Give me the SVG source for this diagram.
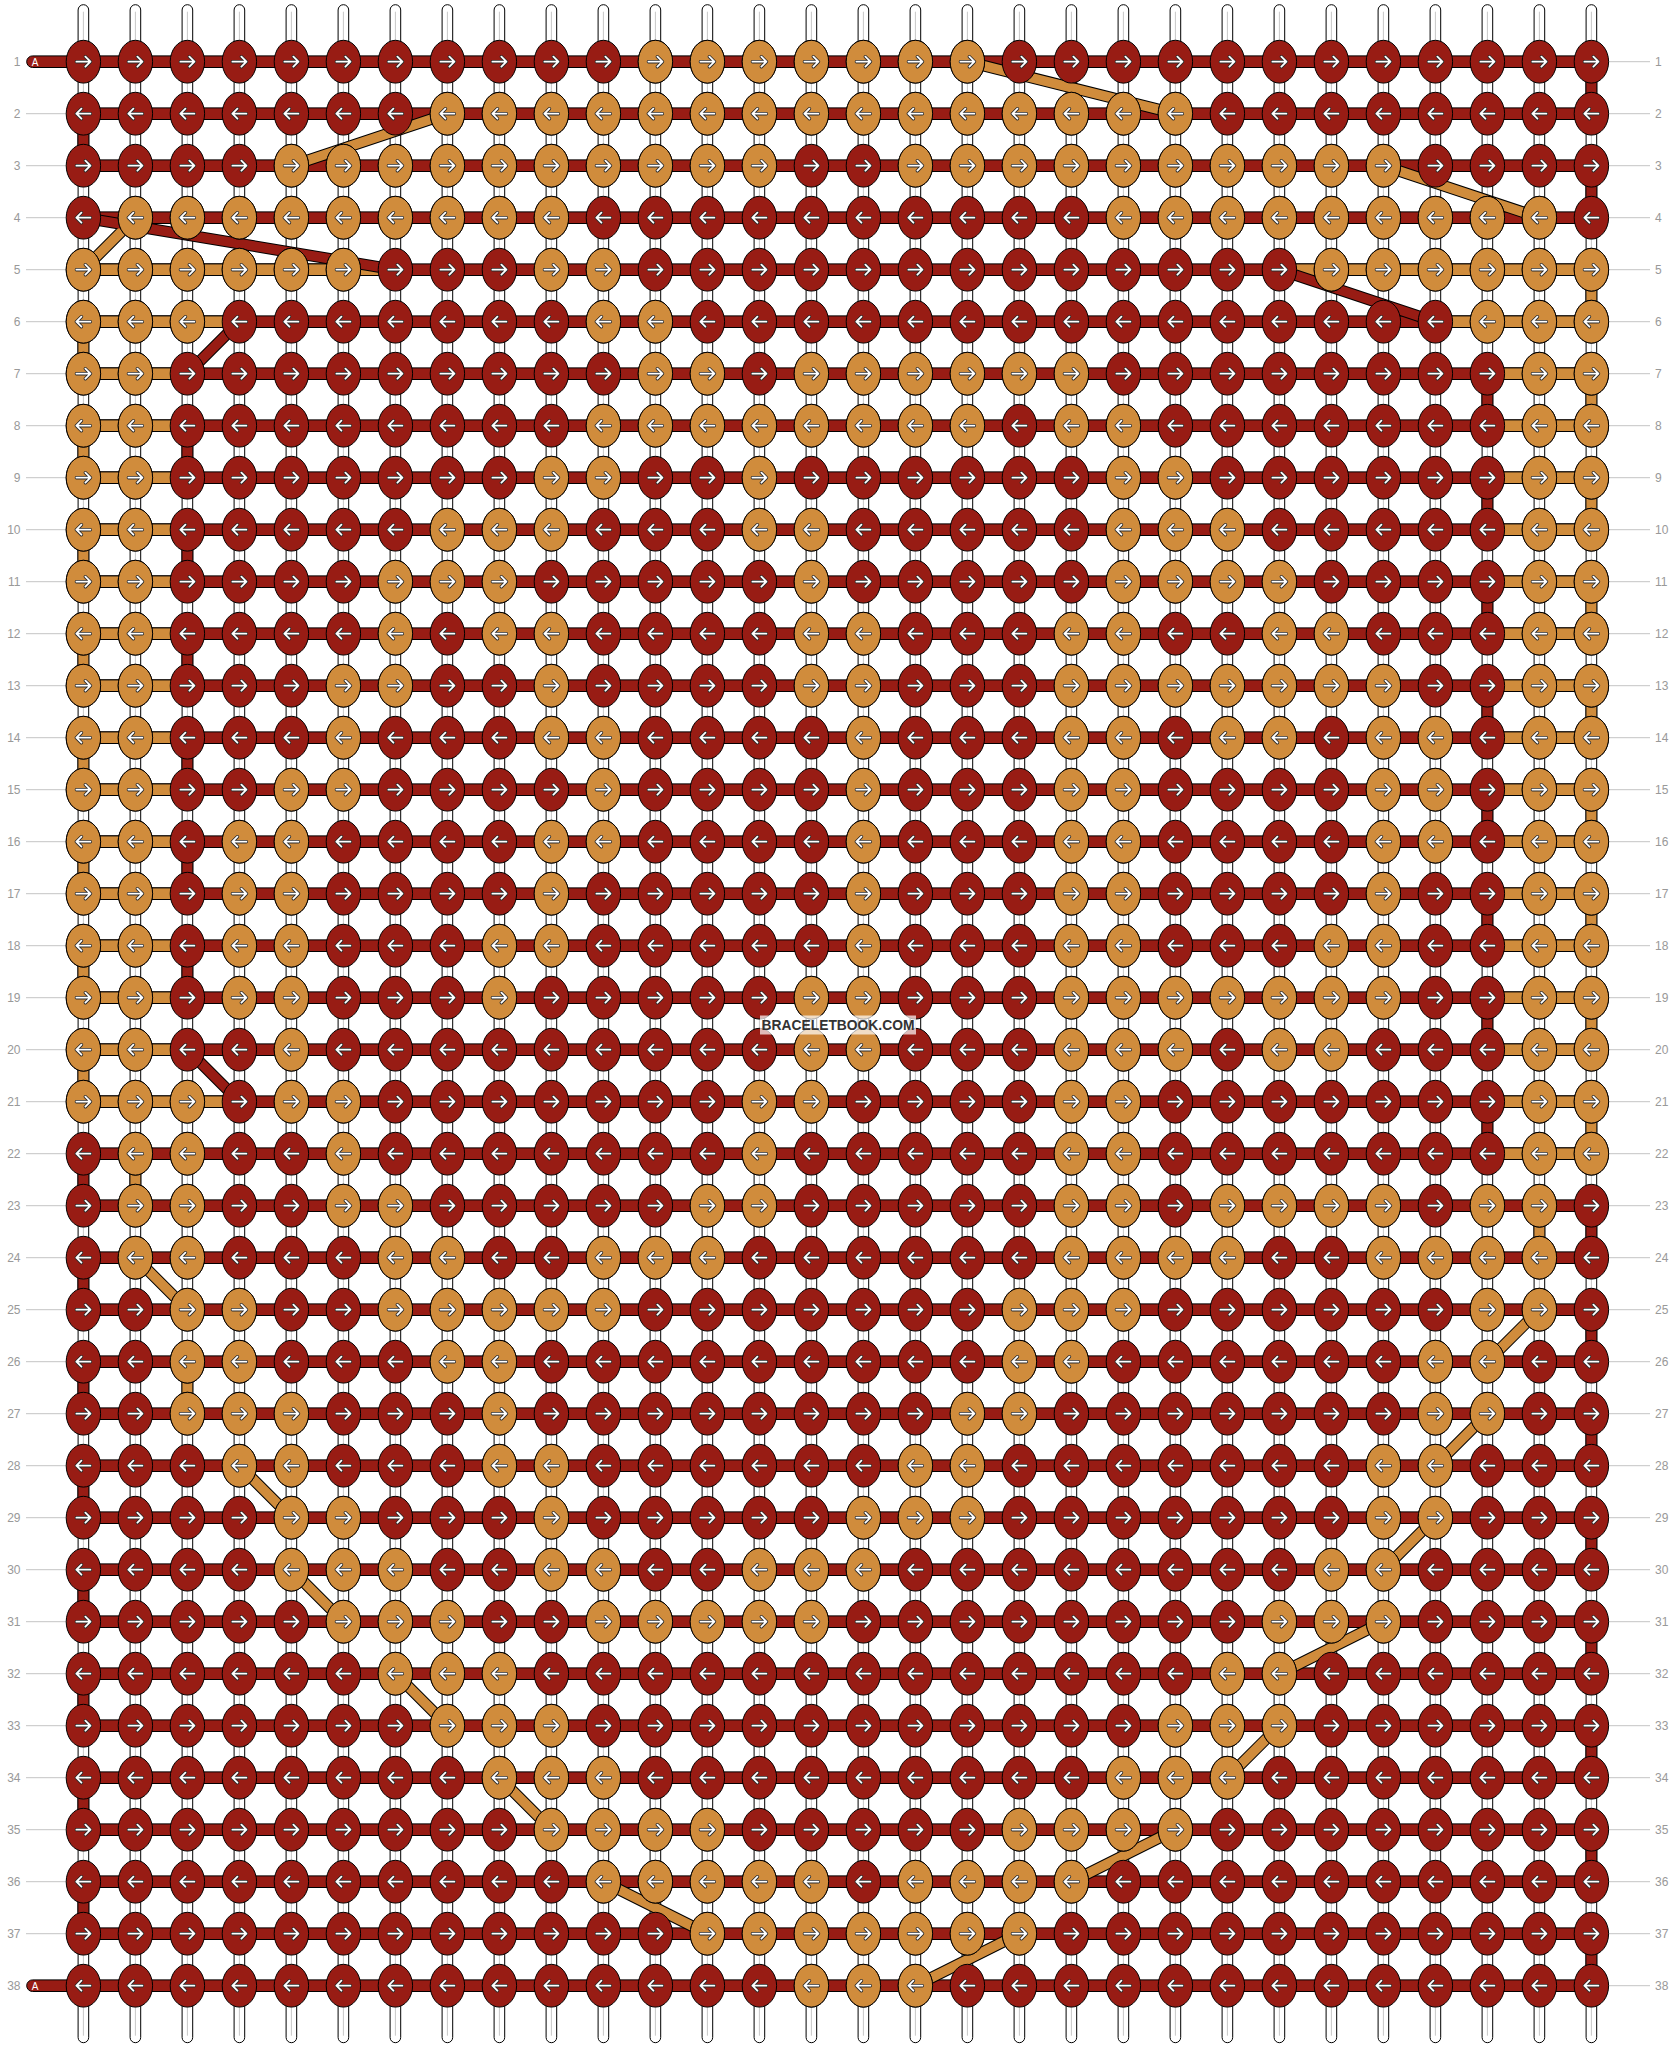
<svg xmlns="http://www.w3.org/2000/svg" width="1676" height="2048" viewBox="0 0 1676 2048">
<style>
.r{fill:#981c14;stroke:#000;stroke-width:1}
.o{fill:#d08c3c;stroke:#000;stroke-width:1}
.lb{font-family:"Liberation Sans",Arial,sans-serif;font-size:12px;fill:#999}
.le{text-anchor:end}
.ln{fill:none;stroke:#c4c4c4;stroke-width:1}
.dk{fill:none;stroke:#000;stroke-width:11.6}
.dr{fill:none;stroke:#981c14;stroke-width:9.6}
.do{fill:none;stroke:#d08c3c;stroke-width:9.6}
</style>
<defs>
<g id="s"><rect x="-5.3" y="-57" width="10.6" height="2038" rx="5.3" fill="#fff" stroke="#000"/><path d="M0-50V1974" stroke="#c8c8c8" stroke-width="1"/></g>
<rect id="hb" x="0" y="-5.8" width="1508" height="11.6"/>
<ellipse id="o" rx="17.2" ry="21.4" fill="#d08c3c" stroke="#000"/>
<path id="KR" fill="#981c14" stroke="#000" d="M-17.2 0a17.2 21.4 0 1 0 34.4 0a17.2 21.4 0 1 0-34.4 0z
m52 0a17.2 21.4 0 1 0 34.4 0a17.2 21.4 0 1 0-34.4 0zm52 0a17.2 21.4 0 1 0 34.4 0a17.2 21.4 0 1 0-34.4 0zm52 0a17.2 21.4 0 1 0 34.4 0a17.2 21.4 0 1 0-34.4 0zm52 0a17.2 21.4 0 1 0 34.4 0a17.2 21.4 0 1 0-34.4 0zm52 0a17.2 21.4 0 1 0 34.4 0a17.2 21.4 0 1 0-34.4 0z
m52 0a17.2 21.4 0 1 0 34.4 0a17.2 21.4 0 1 0-34.4 0zm52 0a17.2 21.4 0 1 0 34.4 0a17.2 21.4 0 1 0-34.4 0zm52 0a17.2 21.4 0 1 0 34.4 0a17.2 21.4 0 1 0-34.4 0zm52 0a17.2 21.4 0 1 0 34.4 0a17.2 21.4 0 1 0-34.4 0zm52 0a17.2 21.4 0 1 0 34.4 0a17.2 21.4 0 1 0-34.4 0z
m52 0a17.2 21.4 0 1 0 34.4 0a17.2 21.4 0 1 0-34.4 0zm52 0a17.2 21.4 0 1 0 34.4 0a17.2 21.4 0 1 0-34.4 0zm52 0a17.2 21.4 0 1 0 34.4 0a17.2 21.4 0 1 0-34.4 0zm52 0a17.2 21.4 0 1 0 34.4 0a17.2 21.4 0 1 0-34.4 0zm52 0a17.2 21.4 0 1 0 34.4 0a17.2 21.4 0 1 0-34.4 0z
m52 0a17.2 21.4 0 1 0 34.4 0a17.2 21.4 0 1 0-34.4 0zm52 0a17.2 21.4 0 1 0 34.4 0a17.2 21.4 0 1 0-34.4 0zm52 0a17.2 21.4 0 1 0 34.4 0a17.2 21.4 0 1 0-34.4 0zm52 0a17.2 21.4 0 1 0 34.4 0a17.2 21.4 0 1 0-34.4 0zm52 0a17.2 21.4 0 1 0 34.4 0a17.2 21.4 0 1 0-34.4 0z
m52 0a17.2 21.4 0 1 0 34.4 0a17.2 21.4 0 1 0-34.4 0zm52 0a17.2 21.4 0 1 0 34.4 0a17.2 21.4 0 1 0-34.4 0zm52 0a17.2 21.4 0 1 0 34.4 0a17.2 21.4 0 1 0-34.4 0zm52 0a17.2 21.4 0 1 0 34.4 0a17.2 21.4 0 1 0-34.4 0zm52 0a17.2 21.4 0 1 0 34.4 0a17.2 21.4 0 1 0-34.4 0z
m52 0a17.2 21.4 0 1 0 34.4 0a17.2 21.4 0 1 0-34.4 0zm52 0a17.2 21.4 0 1 0 34.4 0a17.2 21.4 0 1 0-34.4 0zm52 0a17.2 21.4 0 1 0 34.4 0a17.2 21.4 0 1 0-34.4 0zm52 0a17.2 21.4 0 1 0 34.4 0a17.2 21.4 0 1 0-34.4 0z"/>
<path id="pR" d="M-7 0h14m-5-5l5 5-5 5
m43-5h14m-5-5l5 5-5 5m43-5h14m-5-5l5 5-5 5m43-5h14m-5-5l5 5-5 5m43-5h14m-5-5l5 5-5 5m43-5h14m-5-5l5 5-5 5
m43-5h14m-5-5l5 5-5 5m43-5h14m-5-5l5 5-5 5m43-5h14m-5-5l5 5-5 5m43-5h14m-5-5l5 5-5 5m43-5h14m-5-5l5 5-5 5
m43-5h14m-5-5l5 5-5 5m43-5h14m-5-5l5 5-5 5m43-5h14m-5-5l5 5-5 5m43-5h14m-5-5l5 5-5 5m43-5h14m-5-5l5 5-5 5
m43-5h14m-5-5l5 5-5 5m43-5h14m-5-5l5 5-5 5m43-5h14m-5-5l5 5-5 5m43-5h14m-5-5l5 5-5 5m43-5h14m-5-5l5 5-5 5
m43-5h14m-5-5l5 5-5 5m43-5h14m-5-5l5 5-5 5m43-5h14m-5-5l5 5-5 5m43-5h14m-5-5l5 5-5 5m43-5h14m-5-5l5 5-5 5
m43-5h14m-5-5l5 5-5 5m43-5h14m-5-5l5 5-5 5m43-5h14m-5-5l5 5-5 5m43-5h14m-5-5l5 5-5 5"/>
<path id="pL" d="M7 0h-14m5-5l-5 5 5 5
m61-5h-14m5-5l-5 5 5 5m61-5h-14m5-5l-5 5 5 5m61-5h-14m5-5l-5 5 5 5m61-5h-14m5-5l-5 5 5 5m61-5h-14m5-5l-5 5 5 5
m61-5h-14m5-5l-5 5 5 5m61-5h-14m5-5l-5 5 5 5m61-5h-14m5-5l-5 5 5 5m61-5h-14m5-5l-5 5 5 5m61-5h-14m5-5l-5 5 5 5
m61-5h-14m5-5l-5 5 5 5m61-5h-14m5-5l-5 5 5 5m61-5h-14m5-5l-5 5 5 5m61-5h-14m5-5l-5 5 5 5m61-5h-14m5-5l-5 5 5 5
m61-5h-14m5-5l-5 5 5 5m61-5h-14m5-5l-5 5 5 5m61-5h-14m5-5l-5 5 5 5m61-5h-14m5-5l-5 5 5 5m61-5h-14m5-5l-5 5 5 5
m61-5h-14m5-5l-5 5 5 5m61-5h-14m5-5l-5 5 5 5m61-5h-14m5-5l-5 5 5 5m61-5h-14m5-5l-5 5 5 5m61-5h-14m5-5l-5 5 5 5
m61-5h-14m5-5l-5 5 5 5m61-5h-14m5-5l-5 5 5 5m61-5h-14m5-5l-5 5 5 5m61-5h-14m5-5l-5 5 5 5"/>
<g id="AR" fill="none" stroke-linejoin="round" stroke-linecap="round"><use href="#pR" stroke="#2a2a2a" stroke-width="3.4"/><use href="#pR" stroke="#fff" stroke-width="1.8"/></g>
<g id="AL" fill="none" stroke-linejoin="round" stroke-linecap="round"><use href="#pL" stroke="#2a2a2a" stroke-width="3.4"/><use href="#pL" stroke="#fff" stroke-width="1.8"/></g>
</defs>
<rect width="1676" height="2048" fill="#fff"/>
<g id="guides">
<path class="ln" d="M26 113.7h40.2m-40.2 52h40.2m-40.2 52h40.2m-40.2 52h40.2m-40.2 52h40.2m-40.2 52h40.2m-40.2 52h40.2m-40.2 52h40.2m-40.2 52h40.2m-40.2 52h40.2m-40.2 52h40.2m-40.2 52h40.2m-40.2 52h40.2m-40.2 52h40.2m-40.2 52h40.2m-40.2 52h40.2m-40.2 52h40.2m-40.2 52h40.2m-40.2 52h40.2m-40.2 52h40.2m-40.2 52h40.2m-40.2 52h40.2m-40.2 52h40.2m-40.2 52h40.2m-40.2 52h40.2m-40.2 52h40.2m-40.2 52h40.2m-40.2 52h40.2m-40.2 52h40.2m-40.2 52h40.2m-40.2 52h40.2m-40.2 52h40.2m-40.2 52h40.2m-40.2 52h40.2m-40.2 52h40.2m-40.2 52h40.2"/>
<path class="ln" d="M1608.6 61.7h41.4m-41.4 52h41.4m-41.4 52h41.4m-41.4 52h41.4m-41.4 52h41.4m-41.4 52h41.4m-41.4 52h41.4m-41.4 52h41.4m-41.4 52h41.4m-41.4 52h41.4m-41.4 52h41.4m-41.4 52h41.4m-41.4 52h41.4m-41.4 52h41.4m-41.4 52h41.4m-41.4 52h41.4m-41.4 52h41.4m-41.4 52h41.4m-41.4 52h41.4m-41.4 52h41.4m-41.4 52h41.4m-41.4 52h41.4m-41.4 52h41.4m-41.4 52h41.4m-41.4 52h41.4m-41.4 52h41.4m-41.4 52h41.4m-41.4 52h41.4m-41.4 52h41.4m-41.4 52h41.4m-41.4 52h41.4m-41.4 52h41.4m-41.4 52h41.4m-41.4 52h41.4m-41.4 52h41.4m-41.4 52h41.4m-41.4 52h41.4m-41.4 52h41.4"/>
</g>
<g transform="translate(83.4 61.7)">
<g id="strings">
<use href="#s" x="0"/><use href="#s" x="52"/><use href="#s" x="104"/><use href="#s" x="156"/><use href="#s" x="208"/><use href="#s" x="260"/><use href="#s" x="312"/><use href="#s" x="364"/><use href="#s" x="416"/><use href="#s" x="468"/><use href="#s" x="520"/><use href="#s" x="572"/><use href="#s" x="624"/><use href="#s" x="676"/><use href="#s" x="728"/><use href="#s" x="780"/><use href="#s" x="832"/><use href="#s" x="884"/><use href="#s" x="936"/><use href="#s" x="988"/><use href="#s" x="1040"/><use href="#s" x="1092"/><use href="#s" x="1144"/><use href="#s" x="1196"/><use href="#s" x="1248"/><use href="#s" x="1300"/><use href="#s" x="1352"/><use href="#s" x="1404"/><use href="#s" x="1456"/><use href="#s" x="1508"/>
</g>
<g id="threads">
<rect class="r" x="-56.7" y="-5.8" width="60" height="11.6" rx="5.8"/>
<rect class="r" x="-56.7" y="1918.2" width="60" height="11.6" rx="5.8"/>
<use class="r" href="#hb" y="0"/><use class="r" href="#hb" y="52"/><use class="r" href="#hb" y="104"/><use class="r" href="#hb" y="156"/><use class="r" href="#hb" y="208"/><use class="r" href="#hb" y="260"/><use class="r" href="#hb" y="312"/><use class="r" href="#hb" y="364"/><use class="r" href="#hb" y="416"/><use class="r" href="#hb" y="468"/><use class="r" href="#hb" y="520"/><use class="r" href="#hb" y="572"/><use class="r" href="#hb" y="624"/><use class="r" href="#hb" y="676"/><use class="r" href="#hb" y="728"/><use class="r" href="#hb" y="780"/><use class="r" href="#hb" y="832"/><use class="r" href="#hb" y="884"/><use class="r" href="#hb" y="936"/><use class="r" href="#hb" y="988"/><use class="r" href="#hb" y="1040"/><use class="r" href="#hb" y="1092"/><use class="r" href="#hb" y="1144"/><use class="r" href="#hb" y="1196"/><use class="r" href="#hb" y="1248"/><use class="r" href="#hb" y="1300"/><use class="r" href="#hb" y="1352"/><use class="r" href="#hb" y="1404"/><use class="r" href="#hb" y="1456"/><use class="r" href="#hb" y="1508"/><use class="r" href="#hb" y="1560"/><use class="r" href="#hb" y="1612"/><use class="r" href="#hb" y="1664"/><use class="r" href="#hb" y="1716"/><use class="r" href="#hb" y="1768"/><use class="r" href="#hb" y="1820"/><use class="r" href="#hb" y="1872"/><use class="r" href="#hb" y="1924"/>
<rect class="o" x="0" y="202.2" width="312" height="11.6"/><rect class="o" x="1196" y="202.2" width="312" height="11.6"/>
<rect class="o" x="0" y="254.2" width="156" height="11.6"/><rect class="o" x="1352" y="254.2" width="156" height="11.6"/>
<rect class="o" x="0" y="306.2" width="104" height="11.6"/><rect class="o" x="1404" y="306.2" width="104" height="11.6"/>
<rect class="o" x="0" y="358.2" width="104" height="11.6"/><rect class="o" x="1404" y="358.2" width="104" height="11.6"/>
<rect class="o" x="0" y="410.2" width="104" height="11.6"/><rect class="o" x="1404" y="410.2" width="104" height="11.6"/>
<rect class="o" x="0" y="462.2" width="104" height="11.6"/><rect class="o" x="1404" y="462.2" width="104" height="11.6"/>
<rect class="o" x="0" y="514.2" width="104" height="11.6"/><rect class="o" x="1404" y="514.2" width="104" height="11.6"/>
<rect class="o" x="0" y="566.2" width="104" height="11.6"/><rect class="o" x="1404" y="566.2" width="104" height="11.6"/>
<rect class="o" x="0" y="618.2" width="104" height="11.6"/><rect class="o" x="1404" y="618.2" width="104" height="11.6"/>
<rect class="o" x="0" y="670.2" width="104" height="11.6"/><rect class="o" x="1404" y="670.2" width="104" height="11.6"/>
<rect class="o" x="0" y="722.2" width="104" height="11.6"/><rect class="o" x="1404" y="722.2" width="104" height="11.6"/>
<rect class="o" x="0" y="774.2" width="104" height="11.6"/><rect class="o" x="1404" y="774.2" width="104" height="11.6"/>
<rect class="o" x="0" y="826.2" width="104" height="11.6"/><rect class="o" x="1404" y="826.2" width="104" height="11.6"/>
<rect class="o" x="0" y="878.2" width="104" height="11.6"/><rect class="o" x="1404" y="878.2" width="104" height="11.6"/>
<rect class="o" x="0" y="930.2" width="104" height="11.6"/><rect class="o" x="1404" y="930.2" width="104" height="11.6"/>
<rect class="o" x="0" y="982.2" width="104" height="11.6"/><rect class="o" x="1404" y="982.2" width="104" height="11.6"/>
<rect class="o" x="0" y="1034.2" width="156" height="11.6"/><rect class="o" x="1404" y="1034.2" width="104" height="11.6"/>
<rect class="o" x="1404" y="1086.2" width="104" height="11.6"/>
<rect class="r" x="1502.5" y="0" width="11" height="52"/><rect class="r" x="-5.5" y="52" width="11" height="52"/><rect class="r" x="1502.5" y="104" width="11" height="52"/>
<rect class="r" x="1398.5" y="312" width="11" height="52"/><rect class="r" x="1398.5" y="416" width="11" height="52"/><rect class="r" x="1398.5" y="520" width="11" height="52"/><rect class="r" x="1398.5" y="624" width="11" height="52"/><rect class="r" x="1398.5" y="728" width="11" height="52"/><rect class="r" x="1398.5" y="832" width="11" height="52"/><rect class="r" x="1398.5" y="936" width="11" height="52"/><rect class="r" x="1398.5" y="1040" width="11" height="52"/>
<rect class="r" x="98.5" y="364" width="11" height="52"/><rect class="r" x="98.5" y="468" width="11" height="52"/><rect class="r" x="98.5" y="572" width="11" height="52"/><rect class="r" x="98.5" y="676" width="11" height="52"/><rect class="r" x="98.5" y="780" width="11" height="52"/><rect class="r" x="98.5" y="884" width="11" height="52"/>
<rect class="r" x="-5.5" y="1092" width="11" height="52"/><rect class="r" x="-5.5" y="1196" width="11" height="52"/><rect class="r" x="-5.5" y="1300" width="11" height="52"/><rect class="r" x="-5.5" y="1404" width="11" height="52"/><rect class="r" x="-5.5" y="1508" width="11" height="52"/><rect class="r" x="-5.5" y="1612" width="11" height="52"/><rect class="r" x="-5.5" y="1716" width="11" height="52"/><rect class="r" x="-5.5" y="1820" width="11" height="52"/>
<rect class="r" x="1502.5" y="1144" width="11" height="52"/><rect class="r" x="1502.5" y="1248" width="11" height="52"/><rect class="r" x="1502.5" y="1352" width="11" height="52"/><rect class="r" x="1502.5" y="1456" width="11" height="52"/><rect class="r" x="1502.5" y="1560" width="11" height="52"/><rect class="r" x="1502.5" y="1664" width="11" height="52"/><rect class="r" x="1502.5" y="1768" width="11" height="52"/><rect class="r" x="1502.5" y="1872" width="11" height="52"/>
<rect class="o" x="-5.5" y="260" width="11" height="52"/><rect class="o" x="-5.5" y="364" width="11" height="52"/><rect class="o" x="-5.5" y="468" width="11" height="52"/><rect class="o" x="-5.5" y="572" width="11" height="52"/><rect class="o" x="-5.5" y="676" width="11" height="52"/><rect class="o" x="-5.5" y="780" width="11" height="52"/><rect class="o" x="-5.5" y="884" width="11" height="52"/><rect class="o" x="-5.5" y="988" width="11" height="52"/>
<rect class="o" x="1502.5" y="208" width="11" height="52"/><rect class="o" x="1502.5" y="312" width="11" height="52"/><rect class="o" x="1502.5" y="416" width="11" height="52"/><rect class="o" x="1502.5" y="520" width="11" height="52"/><rect class="o" x="1502.5" y="624" width="11" height="52"/><rect class="o" x="1502.5" y="728" width="11" height="52"/><rect class="o" x="1502.5" y="832" width="11" height="52"/><rect class="o" x="1502.5" y="936" width="11" height="52"/><rect class="o" x="1502.5" y="1040" width="11" height="52"/>
<rect class="o" x="46.5" y="1092" width="11" height="52"/><rect class="o" x="1450.5" y="1144" width="11" height="52"/><rect class="o" x="98.5" y="1300" width="11" height="52"/>
</g>
<g id="connectors">
<path class="dk" d="M884 0L1092 52M364 52L208 104M1300 104L1456 156M52 156L0 208M52 1196L104 1248M156 1404L208 1456M208 1508L260 1560M312 1612L364 1664M416 1716L468 1768M520 1820L624 1872M1456 1248L1404 1300M1404 1352L1352 1404M1352 1456L1300 1508M1300 1560L1196 1612M1196 1664L1144 1716M1092 1768L988 1820M936 1872L832 1924M0 156L312 208M1196 208L1352 260M156 260L104 312M104 988L156 1040"/>
<path class="do" d="M884 0L1092 52M364 52L208 104M1300 104L1456 156M52 156L0 208M52 1196L104 1248M156 1404L208 1456M208 1508L260 1560M312 1612L364 1664M416 1716L468 1768M520 1820L624 1872M1456 1248L1404 1300M1404 1352L1352 1404M1352 1456L1300 1508M1300 1560L1196 1612M1196 1664L1144 1716M1092 1768L988 1820M936 1872L832 1924"/>
<path class="dr" d="M0 156L312 208M1196 208L1352 260M156 260L104 312M104 988L156 1040"/>
</g>
<g id="knots">
<g id="row-1"><use href="#KR"/><use href="#o" x="572"/><use href="#o" x="624"/><use href="#o" x="676"/><use href="#o" x="728"/><use href="#o" x="780"/><use href="#o" x="832"/><use href="#o" x="884"/><use href="#AR"/></g>
<g id="row-2" transform="translate(0 52)"><use href="#KR"/><use href="#o" x="364"/><use href="#o" x="416"/><use href="#o" x="468"/><use href="#o" x="520"/><use href="#o" x="572"/><use href="#o" x="624"/><use href="#o" x="676"/><use href="#o" x="728"/><use href="#o" x="780"/><use href="#o" x="832"/><use href="#o" x="884"/><use href="#o" x="936"/><use href="#o" x="988"/><use href="#o" x="1040"/><use href="#o" x="1092"/><use href="#AL"/></g>
<g id="row-3" transform="translate(0 104)"><use href="#KR"/><use href="#o" x="208"/><use href="#o" x="260"/><use href="#o" x="312"/><use href="#o" x="364"/><use href="#o" x="416"/><use href="#o" x="468"/><use href="#o" x="520"/><use href="#o" x="572"/><use href="#o" x="624"/><use href="#o" x="676"/><use href="#o" x="832"/><use href="#o" x="884"/><use href="#o" x="936"/><use href="#o" x="988"/><use href="#o" x="1040"/><use href="#o" x="1092"/><use href="#o" x="1144"/><use href="#o" x="1196"/><use href="#o" x="1248"/><use href="#o" x="1300"/><use href="#AR"/></g>
<g id="row-4" transform="translate(0 156)"><use href="#KR"/><use href="#o" x="52"/><use href="#o" x="104"/><use href="#o" x="156"/><use href="#o" x="208"/><use href="#o" x="260"/><use href="#o" x="312"/><use href="#o" x="364"/><use href="#o" x="416"/><use href="#o" x="468"/><use href="#o" x="1040"/><use href="#o" x="1092"/><use href="#o" x="1144"/><use href="#o" x="1196"/><use href="#o" x="1248"/><use href="#o" x="1300"/><use href="#o" x="1352"/><use href="#o" x="1404"/><use href="#o" x="1456"/><use href="#AL"/></g>
<g id="row-5" transform="translate(0 208)"><use href="#KR"/><use href="#o" x="0"/><use href="#o" x="52"/><use href="#o" x="104"/><use href="#o" x="156"/><use href="#o" x="208"/><use href="#o" x="260"/><use href="#o" x="468"/><use href="#o" x="520"/><use href="#o" x="1248"/><use href="#o" x="1300"/><use href="#o" x="1352"/><use href="#o" x="1404"/><use href="#o" x="1456"/><use href="#o" x="1508"/><use href="#AR"/></g>
<g id="row-6" transform="translate(0 260)"><use href="#KR"/><use href="#o" x="0"/><use href="#o" x="52"/><use href="#o" x="104"/><use href="#o" x="520"/><use href="#o" x="572"/><use href="#o" x="1404"/><use href="#o" x="1456"/><use href="#o" x="1508"/><use href="#AL"/></g>
<g id="row-7" transform="translate(0 312)"><use href="#KR"/><use href="#o" x="0"/><use href="#o" x="52"/><use href="#o" x="572"/><use href="#o" x="624"/><use href="#o" x="728"/><use href="#o" x="780"/><use href="#o" x="832"/><use href="#o" x="884"/><use href="#o" x="936"/><use href="#o" x="988"/><use href="#o" x="1456"/><use href="#o" x="1508"/><use href="#AR"/></g>
<g id="row-8" transform="translate(0 364)"><use href="#KR"/><use href="#o" x="0"/><use href="#o" x="52"/><use href="#o" x="520"/><use href="#o" x="572"/><use href="#o" x="624"/><use href="#o" x="676"/><use href="#o" x="728"/><use href="#o" x="780"/><use href="#o" x="832"/><use href="#o" x="884"/><use href="#o" x="988"/><use href="#o" x="1040"/><use href="#o" x="1456"/><use href="#o" x="1508"/><use href="#AL"/></g>
<g id="row-9" transform="translate(0 416)"><use href="#KR"/><use href="#o" x="0"/><use href="#o" x="52"/><use href="#o" x="468"/><use href="#o" x="520"/><use href="#o" x="676"/><use href="#o" x="1040"/><use href="#o" x="1092"/><use href="#o" x="1456"/><use href="#o" x="1508"/><use href="#AR"/></g>
<g id="row-10" transform="translate(0 468)"><use href="#KR"/><use href="#o" x="0"/><use href="#o" x="52"/><use href="#o" x="364"/><use href="#o" x="416"/><use href="#o" x="468"/><use href="#o" x="676"/><use href="#o" x="728"/><use href="#o" x="1040"/><use href="#o" x="1092"/><use href="#o" x="1144"/><use href="#o" x="1456"/><use href="#o" x="1508"/><use href="#AL"/></g>
<g id="row-11" transform="translate(0 520)"><use href="#KR"/><use href="#o" x="0"/><use href="#o" x="52"/><use href="#o" x="312"/><use href="#o" x="364"/><use href="#o" x="416"/><use href="#o" x="728"/><use href="#o" x="1040"/><use href="#o" x="1092"/><use href="#o" x="1144"/><use href="#o" x="1196"/><use href="#o" x="1456"/><use href="#o" x="1508"/><use href="#AR"/></g>
<g id="row-12" transform="translate(0 572)"><use href="#KR"/><use href="#o" x="0"/><use href="#o" x="52"/><use href="#o" x="312"/><use href="#o" x="416"/><use href="#o" x="468"/><use href="#o" x="728"/><use href="#o" x="780"/><use href="#o" x="988"/><use href="#o" x="1040"/><use href="#o" x="1196"/><use href="#o" x="1248"/><use href="#o" x="1456"/><use href="#o" x="1508"/><use href="#AL"/></g>
<g id="row-13" transform="translate(0 624)"><use href="#KR"/><use href="#o" x="0"/><use href="#o" x="52"/><use href="#o" x="260"/><use href="#o" x="312"/><use href="#o" x="468"/><use href="#o" x="728"/><use href="#o" x="780"/><use href="#o" x="988"/><use href="#o" x="1040"/><use href="#o" x="1092"/><use href="#o" x="1144"/><use href="#o" x="1196"/><use href="#o" x="1248"/><use href="#o" x="1300"/><use href="#o" x="1456"/><use href="#o" x="1508"/><use href="#AR"/></g>
<g id="row-14" transform="translate(0 676)"><use href="#KR"/><use href="#o" x="0"/><use href="#o" x="52"/><use href="#o" x="260"/><use href="#o" x="468"/><use href="#o" x="520"/><use href="#o" x="780"/><use href="#o" x="988"/><use href="#o" x="1040"/><use href="#o" x="1144"/><use href="#o" x="1196"/><use href="#o" x="1300"/><use href="#o" x="1352"/><use href="#o" x="1456"/><use href="#o" x="1508"/><use href="#AL"/></g>
<g id="row-15" transform="translate(0 728)"><use href="#KR"/><use href="#o" x="0"/><use href="#o" x="52"/><use href="#o" x="208"/><use href="#o" x="260"/><use href="#o" x="520"/><use href="#o" x="780"/><use href="#o" x="988"/><use href="#o" x="1040"/><use href="#o" x="1300"/><use href="#o" x="1352"/><use href="#o" x="1456"/><use href="#o" x="1508"/><use href="#AR"/></g>
<g id="row-16" transform="translate(0 780)"><use href="#KR"/><use href="#o" x="0"/><use href="#o" x="52"/><use href="#o" x="156"/><use href="#o" x="208"/><use href="#o" x="468"/><use href="#o" x="520"/><use href="#o" x="780"/><use href="#o" x="988"/><use href="#o" x="1040"/><use href="#o" x="1300"/><use href="#o" x="1352"/><use href="#o" x="1456"/><use href="#o" x="1508"/><use href="#AL"/></g>
<g id="row-17" transform="translate(0 832)"><use href="#KR"/><use href="#o" x="0"/><use href="#o" x="52"/><use href="#o" x="156"/><use href="#o" x="208"/><use href="#o" x="468"/><use href="#o" x="780"/><use href="#o" x="988"/><use href="#o" x="1040"/><use href="#o" x="1300"/><use href="#o" x="1456"/><use href="#o" x="1508"/><use href="#AR"/></g>
<g id="row-18" transform="translate(0 884)"><use href="#KR"/><use href="#o" x="0"/><use href="#o" x="52"/><use href="#o" x="156"/><use href="#o" x="208"/><use href="#o" x="416"/><use href="#o" x="468"/><use href="#o" x="780"/><use href="#o" x="988"/><use href="#o" x="1040"/><use href="#o" x="1248"/><use href="#o" x="1300"/><use href="#o" x="1456"/><use href="#o" x="1508"/><use href="#AL"/></g>
<g id="row-19" transform="translate(0 936)"><use href="#KR"/><use href="#o" x="0"/><use href="#o" x="52"/><use href="#o" x="156"/><use href="#o" x="208"/><use href="#o" x="416"/><use href="#o" x="728"/><use href="#o" x="780"/><use href="#o" x="988"/><use href="#o" x="1040"/><use href="#o" x="1092"/><use href="#o" x="1144"/><use href="#o" x="1196"/><use href="#o" x="1248"/><use href="#o" x="1300"/><use href="#o" x="1456"/><use href="#o" x="1508"/><use href="#AR"/></g>
<g id="row-20" transform="translate(0 988)"><use href="#KR"/><use href="#o" x="0"/><use href="#o" x="52"/><use href="#o" x="208"/><use href="#o" x="728"/><use href="#o" x="780"/><use href="#o" x="988"/><use href="#o" x="1040"/><use href="#o" x="1092"/><use href="#o" x="1196"/><use href="#o" x="1248"/><use href="#o" x="1456"/><use href="#o" x="1508"/><use href="#AL"/></g>
<g id="row-21" transform="translate(0 1040)"><use href="#KR"/><use href="#o" x="0"/><use href="#o" x="52"/><use href="#o" x="104"/><use href="#o" x="208"/><use href="#o" x="260"/><use href="#o" x="676"/><use href="#o" x="728"/><use href="#o" x="988"/><use href="#o" x="1040"/><use href="#o" x="1456"/><use href="#o" x="1508"/><use href="#AR"/></g>
<g id="row-22" transform="translate(0 1092)"><use href="#KR"/><use href="#o" x="52"/><use href="#o" x="104"/><use href="#o" x="260"/><use href="#o" x="676"/><use href="#o" x="988"/><use href="#o" x="1040"/><use href="#o" x="1456"/><use href="#o" x="1508"/><use href="#AL"/></g>
<g id="row-23" transform="translate(0 1144)"><use href="#KR"/><use href="#o" x="52"/><use href="#o" x="104"/><use href="#o" x="260"/><use href="#o" x="312"/><use href="#o" x="624"/><use href="#o" x="676"/><use href="#o" x="988"/><use href="#o" x="1040"/><use href="#o" x="1144"/><use href="#o" x="1196"/><use href="#o" x="1248"/><use href="#o" x="1300"/><use href="#o" x="1404"/><use href="#o" x="1456"/><use href="#AR"/></g>
<g id="row-24" transform="translate(0 1196)"><use href="#KR"/><use href="#o" x="52"/><use href="#o" x="104"/><use href="#o" x="312"/><use href="#o" x="364"/><use href="#o" x="520"/><use href="#o" x="572"/><use href="#o" x="624"/><use href="#o" x="988"/><use href="#o" x="1040"/><use href="#o" x="1092"/><use href="#o" x="1144"/><use href="#o" x="1300"/><use href="#o" x="1352"/><use href="#o" x="1404"/><use href="#o" x="1456"/><use href="#AL"/></g>
<g id="row-25" transform="translate(0 1248)"><use href="#KR"/><use href="#o" x="104"/><use href="#o" x="156"/><use href="#o" x="312"/><use href="#o" x="364"/><use href="#o" x="416"/><use href="#o" x="468"/><use href="#o" x="520"/><use href="#o" x="936"/><use href="#o" x="988"/><use href="#o" x="1040"/><use href="#o" x="1404"/><use href="#o" x="1456"/><use href="#AR"/></g>
<g id="row-26" transform="translate(0 1300)"><use href="#KR"/><use href="#o" x="104"/><use href="#o" x="156"/><use href="#o" x="364"/><use href="#o" x="416"/><use href="#o" x="936"/><use href="#o" x="988"/><use href="#o" x="1352"/><use href="#o" x="1404"/><use href="#AL"/></g>
<g id="row-27" transform="translate(0 1352)"><use href="#KR"/><use href="#o" x="104"/><use href="#o" x="156"/><use href="#o" x="208"/><use href="#o" x="416"/><use href="#o" x="884"/><use href="#o" x="936"/><use href="#o" x="1352"/><use href="#o" x="1404"/><use href="#AR"/></g>
<g id="row-28" transform="translate(0 1404)"><use href="#KR"/><use href="#o" x="156"/><use href="#o" x="208"/><use href="#o" x="416"/><use href="#o" x="468"/><use href="#o" x="832"/><use href="#o" x="884"/><use href="#o" x="1300"/><use href="#o" x="1352"/><use href="#AL"/></g>
<g id="row-29" transform="translate(0 1456)"><use href="#KR"/><use href="#o" x="208"/><use href="#o" x="260"/><use href="#o" x="468"/><use href="#o" x="780"/><use href="#o" x="832"/><use href="#o" x="884"/><use href="#o" x="1300"/><use href="#o" x="1352"/><use href="#AR"/></g>
<g id="row-30" transform="translate(0 1508)"><use href="#KR"/><use href="#o" x="208"/><use href="#o" x="260"/><use href="#o" x="312"/><use href="#o" x="468"/><use href="#o" x="520"/><use href="#o" x="676"/><use href="#o" x="728"/><use href="#o" x="780"/><use href="#o" x="1248"/><use href="#o" x="1300"/><use href="#AL"/></g>
<g id="row-31" transform="translate(0 1560)"><use href="#KR"/><use href="#o" x="260"/><use href="#o" x="312"/><use href="#o" x="364"/><use href="#o" x="520"/><use href="#o" x="572"/><use href="#o" x="624"/><use href="#o" x="676"/><use href="#o" x="728"/><use href="#o" x="1196"/><use href="#o" x="1248"/><use href="#o" x="1300"/><use href="#AR"/></g>
<g id="row-32" transform="translate(0 1612)"><use href="#KR"/><use href="#o" x="312"/><use href="#o" x="364"/><use href="#o" x="416"/><use href="#o" x="1144"/><use href="#o" x="1196"/><use href="#AL"/></g>
<g id="row-33" transform="translate(0 1664)"><use href="#KR"/><use href="#o" x="364"/><use href="#o" x="416"/><use href="#o" x="468"/><use href="#o" x="1092"/><use href="#o" x="1144"/><use href="#o" x="1196"/><use href="#AR"/></g>
<g id="row-34" transform="translate(0 1716)"><use href="#KR"/><use href="#o" x="416"/><use href="#o" x="468"/><use href="#o" x="520"/><use href="#o" x="1040"/><use href="#o" x="1092"/><use href="#o" x="1144"/><use href="#AL"/></g>
<g id="row-35" transform="translate(0 1768)"><use href="#KR"/><use href="#o" x="468"/><use href="#o" x="520"/><use href="#o" x="572"/><use href="#o" x="624"/><use href="#o" x="936"/><use href="#o" x="988"/><use href="#o" x="1040"/><use href="#o" x="1092"/><use href="#AR"/></g>
<g id="row-36" transform="translate(0 1820)"><use href="#KR"/><use href="#o" x="520"/><use href="#o" x="572"/><use href="#o" x="624"/><use href="#o" x="676"/><use href="#o" x="728"/><use href="#o" x="832"/><use href="#o" x="884"/><use href="#o" x="936"/><use href="#o" x="988"/><use href="#AL"/></g>
<g id="row-37" transform="translate(0 1872)"><use href="#KR"/><use href="#o" x="624"/><use href="#o" x="676"/><use href="#o" x="728"/><use href="#o" x="780"/><use href="#o" x="832"/><use href="#o" x="884"/><use href="#o" x="936"/><use href="#AR"/></g>
<g id="row-38" transform="translate(0 1924)"><use href="#KR"/><use href="#o" x="728"/><use href="#o" x="780"/><use href="#o" x="832"/><use href="#AL"/></g>
</g>
</g>
<g id="thread-labels" font-family="Liberation Sans, Arial, sans-serif" font-size="10" fill="#fff">
<text x="31.7" y="65.7">A</text>
<text x="31.7" y="1989.7">A</text>
</g>
<g id="row-numbers-left" class="lb le">
<text x="20.5" y="66">1</text><text x="20.5" y="118">2</text><text x="20.5" y="170">3</text><text x="20.5" y="222">4</text><text x="20.5" y="274">5</text><text x="20.5" y="326">6</text><text x="20.5" y="378">7</text><text x="20.5" y="430">8</text><text x="20.5" y="482">9</text><text x="20.5" y="534">10</text><text x="20.5" y="586">11</text><text x="20.5" y="638">12</text><text x="20.5" y="690">13</text><text x="20.5" y="742">14</text><text x="20.5" y="794">15</text><text x="20.5" y="846">16</text><text x="20.5" y="898">17</text><text x="20.5" y="950">18</text><text x="20.5" y="1002">19</text><text x="20.5" y="1054">20</text><text x="20.5" y="1106">21</text><text x="20.5" y="1158">22</text><text x="20.5" y="1210">23</text><text x="20.5" y="1262">24</text><text x="20.5" y="1314">25</text><text x="20.5" y="1366">26</text><text x="20.5" y="1418">27</text><text x="20.5" y="1470">28</text><text x="20.5" y="1522">29</text><text x="20.5" y="1574">30</text><text x="20.5" y="1626">31</text><text x="20.5" y="1678">32</text><text x="20.5" y="1730">33</text><text x="20.5" y="1782">34</text><text x="20.5" y="1834">35</text><text x="20.5" y="1886">36</text><text x="20.5" y="1938">37</text><text x="20.5" y="1990">38</text>
</g>
<g id="row-numbers-right" class="lb">
<text x="1655" y="66">1</text><text x="1655" y="118">2</text><text x="1655" y="170">3</text><text x="1655" y="222">4</text><text x="1655" y="274">5</text><text x="1655" y="326">6</text><text x="1655" y="378">7</text><text x="1655" y="430">8</text><text x="1655" y="482">9</text><text x="1655" y="534">10</text><text x="1655" y="586">11</text><text x="1655" y="638">12</text><text x="1655" y="690">13</text><text x="1655" y="742">14</text><text x="1655" y="794">15</text><text x="1655" y="846">16</text><text x="1655" y="898">17</text><text x="1655" y="950">18</text><text x="1655" y="1002">19</text><text x="1655" y="1054">20</text><text x="1655" y="1106">21</text><text x="1655" y="1158">22</text><text x="1655" y="1210">23</text><text x="1655" y="1262">24</text><text x="1655" y="1314">25</text><text x="1655" y="1366">26</text><text x="1655" y="1418">27</text><text x="1655" y="1470">28</text><text x="1655" y="1522">29</text><text x="1655" y="1574">30</text><text x="1655" y="1626">31</text><text x="1655" y="1678">32</text><text x="1655" y="1730">33</text><text x="1655" y="1782">34</text><text x="1655" y="1834">35</text><text x="1655" y="1886">36</text><text x="1655" y="1938">37</text><text x="1655" y="1990">38</text>
</g>
<g id="watermark">
<rect x="760" y="1015.5" width="156" height="19" fill="#fff" fill-opacity="0.7"/>
<text x="838" y="1030" text-anchor="middle" font-family="Liberation Sans, Arial, sans-serif" font-size="14.5" font-weight="bold" fill="#333" textLength="153" lengthAdjust="spacingAndGlyphs">BRACELETBOOK.COM</text>
</g>
</svg>
